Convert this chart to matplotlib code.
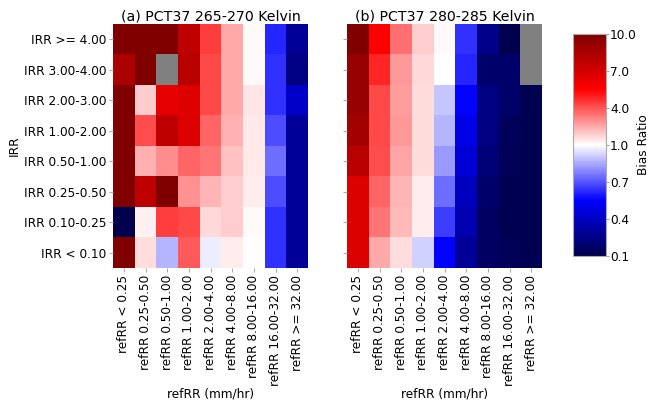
import numpy as np
import matplotlib
matplotlib.use("Agg")
import matplotlib.pyplot as plt
from matplotlib.colors import TwoSlopeNorm

irr_labels = ["IRR >= 4.00", "IRR 3.00-4.00", "IRR 2.00-3.00", "IRR 1.00-2.00",
              "IRR 0.50-1.00", "IRR 0.25-0.50", "IRR 0.10-0.25", "IRR < 0.10"]
refrr_labels = ["refRR < 0.25", "refRR 0.25-0.50", "refRR 0.50-1.00", "refRR 1.00-2.00",
                "refRR 2.00-4.00", "refRR 4.00-8.00", "refRR 8.00-16.00",
                "refRR 16.00-32.00", "refRR >= 32.00"]

nan = np.nan
# Bias ratio, PCT37 265-270 K (rows: IRR bins, cols: refRR bins)
bias_265_270 = [
    [10.0, 10.0, 10.0, 7.8, 4.4, 2.5, 1.1, 0.62, 0.29],
    [8.5, 10.0, nan, 8.0, 4.2, 2.5, 1.1, 0.64, 0.235],
    [10.0, 1.9, 6.4, 6.7, 4.2, 2.5, 1.45, 0.64, 0.41],
    [10.0, 4.1, 7.8, 6.7, 3.7, 2.4, 1.4, 0.69, 0.29],
    [10.0, 2.4, 3.0, 3.7, 3.4, 2.1, 1.4, 0.74, 0.29],
    [10.0, 7.8, 10.0, 2.9, 2.3, 1.9, 1.35, 0.69, 0.29],
    [0.1, 1.25, 4.4, 4.2, 1.7, 1.9, 1.1, 0.64, 0.29],
    [10.0, 1.6, 0.87, 3.9, 0.97, 1.35, 1.02, 0.64, 0.29],
]
# Bias ratio, PCT37 280-285 K
bias_280_285 = [
    [10.0, 5.5, 3.5, 1.9, 1.1, 0.64, 0.26, 0.1, nan],
    [9.2, 4.8, 2.8, 1.7, 1.0, 0.62, 0.18, 0.18, nan],
    [9.2, 4.2, 2.7, 1.6, 0.9, 0.55, 0.235, 0.18, 0.12],
    [8.7, 4.2, 2.8, 1.6, 0.87, 0.49, 0.235, 0.14, 0.12],
    [8.0, 4.1, 2.6, 1.6, 0.82, 0.45, 0.21, 0.13, 0.12],
    [6.7, 3.7, 2.3, 1.35, 0.74, 0.39, 0.18, 0.12, 0.12],
    [6.7, 3.4, 2.2, 1.3, 0.66, 0.35, 0.16, 0.12, 0.12],
    [6.7, 2.5, 1.6, 0.92, 0.55, 0.29, 0.16, 0.13, 0.12],
]
titles = ["(a) PCT37 265-270 Kelvin", "(b) PCT37 280-285 Kelvin"]
cbar_ticks = [0.1, 0.4, 0.7, 1.0, 4.0, 7.0, 10.0]

cmap = plt.get_cmap("seismic").copy()
cmap.set_bad("#808080")
norm = TwoSlopeNorm(vmin=0.1, vcenter=1.0, vmax=10.0)

W, H = 652, 403
fig = plt.figure(figsize=(W / 100, H / 100), dpi=100)
ax_a = fig.add_axes([113 / W, 1 - 268 / H, 195 / W, 244 / H])
ax_b = fig.add_axes([347 / W, 1 - 268 / H, 195 / W, 244 / H])
cax = fig.add_axes([573 / W, 1 - 256 / H, 33 / W, 222 / H])

fs = 8.7
for i, (ax, data, title) in enumerate(zip([ax_a, ax_b], [bias_265_270, bias_280_285], titles)):
    arr = np.ma.masked_invalid(np.array(data, dtype=float))
    mesh = ax.pcolormesh(arr, cmap=cmap, norm=norm)
    ax.set_xlim(0, len(refrr_labels))
    ax.set_ylim(len(irr_labels), 0)
    ax.set_xticks(np.arange(len(refrr_labels)) + 0.5)
    ax.set_xticklabels(refrr_labels, rotation=90, fontsize=fs)
    ax.set_yticks(np.arange(len(irr_labels)) + 0.5)
    if i == 0:
        ax.set_yticklabels(irr_labels, fontsize=fs)
        ax.set_ylabel("IRR", fontsize=fs, labelpad=2)
    else:
        ax.set_yticklabels([])
    ax.set_xlabel("refRR (mm/hr)", fontsize=fs, labelpad=1)
    ax.set_title(title, fontsize=10.2, pad=2)
    for s in ax.spines.values():
        s.set_visible(False)
    ax.tick_params(length=3, color="#aaaaaa", width=0.8, pad=2)

cb = fig.colorbar(mesh, cax=cax)
cb.set_ticks(cbar_ticks)
cb.set_ticklabels([f"{t:.1f}" for t in cbar_ticks])
cb.ax.tick_params(labelsize=fs, length=2, color="#aaaaaa", pad=1)
cb.set_label("Bias Ratio", fontsize=fs, labelpad=0)
cb.outline.set_edgecolor("#aaaaaa")
cb.outline.set_linewidth(0.8)

fig.savefig("out.png", dpi=100)
